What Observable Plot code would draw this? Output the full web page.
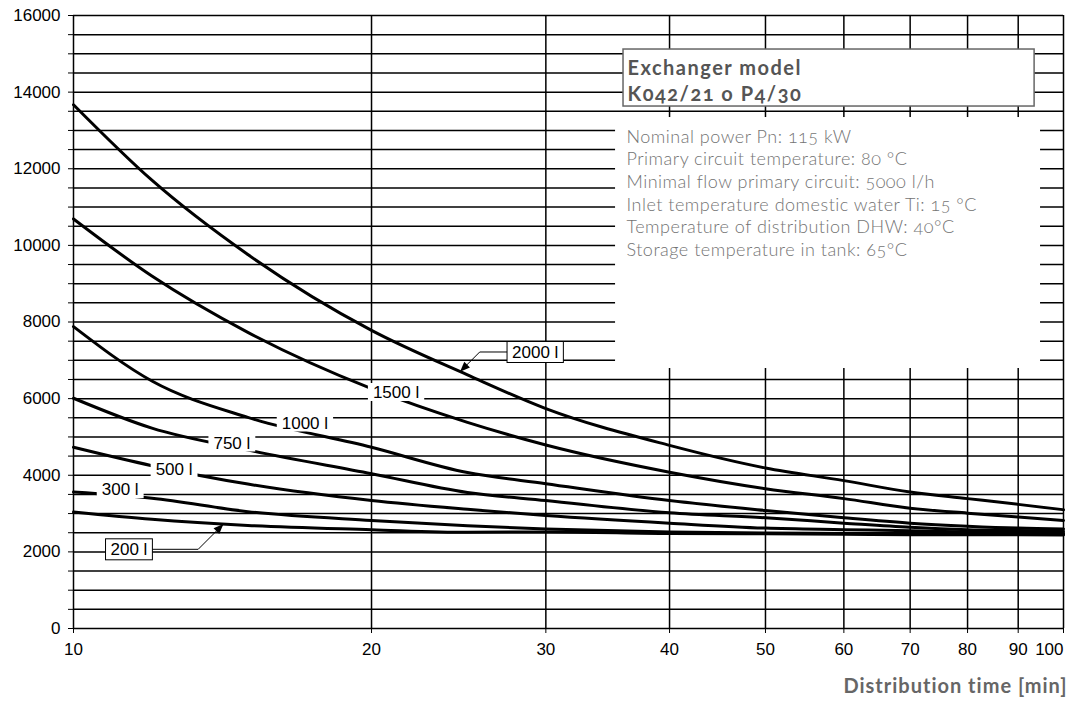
<!DOCTYPE html>
<html><head><meta charset="utf-8">
<script src="https://cdn.jsdelivr.net/npm/d3@7"></script>
<script src="https://cdn.jsdelivr.net/npm/@observablehq/plot@0.6"></script>
<style>
body{margin:0;background:#fff}
.chart-title{letter-spacing:1.5px}
.chart-info{letter-spacing:0.5px}
.x-title{letter-spacing:1px}
</style>
</head><body><div id="chart"></div>
<script>
// ---- data ----
const minutes = [10, 12, 15, 20, 25, 30, 40, 50, 60, 70, 80, 90, 100];
const tank2000 = [13670, 11700, 9760, 7780, 6620, 5740, 4780, 4190, 3860, 3560, 3390, 3240, 3100];
const tank1500 = [10690, 9200, 7730, 6260, 5380, 4790, 4080, 3650, 3390, 3140, 3010, 2910, 2820];
const tank1000 = [7880, 6460, 5510, 4730, 4070, 3780, 3340, 3080, 2890, 2750, 2670, 2620, 2600];
const tank750  = [6010, 5230, 4660, 4040, 3550, 3340, 3020, 2890, 2750, 2640, 2580, 2560, 2540];
const tank500  = [4730, 4250, 3770, 3340, 3110, 2950, 2750, 2620, 2580, 2550, 2520, 2510, 2490];
const tank300  = [3560, 3400, 3050, 2820, 2680, 2600, 2520, 2490, 2480, 2470, 2470, 2460, 2460];
const tank200  = [3040, 2850, 2690, 2580, 2510, 2520, 2480, 2470, 2460, 2450, 2450, 2450, 2440];
const seriesNames = ["2000 l", "1500 l", "1000 l", "750 l", "500 l", "300 l", "200 l"];
const seriesValues = [tank2000, tank1500, tank1000, tank750, tank500, tank300, tank200];
const xTicks = [10, 20, 30, 40, 50, 60, 70, 80, 90, 100];
const yTicks = d3.range(0, 16001, 500);
const yLabelStep = 2000;
const titleLines = ["Exchanger model", "K042/21 o P4/30"];
const infoLines = [
  "Nominal power Pn: 115 kW",
  "Primary circuit temperature: 80 °C",
  "Minimal flow primary circuit: 5000 l/h",
  "Inlet temperature domestic water Ti: 15 °C",
  "Temperature of distribution DHW: 40°C",
  "Storage temperature in tank: 65°C"
];
const xLabel = "Distribution time [min]";

// ---- annotation placement (data units) ----
const infoArea = {x1: 35.28, x2: 94.8, y1: 6786, y2: 13337};
const titleArea = {x1: 35.94, x2: 93.5, y1: 13624, y2: 15112};
const titleAnchor = {x: 36.27, y: 14917};
const infoAnchor = {x: 36.19, y: 13103};
const labelPlacement = [
  {text: "2000 l", x: 29.3, y: 7204, boxed: true, tipX: 24.6, tipY: 6690},
  {text: "1500 l", x: 21.2, y: 6160},
  {text: "1000 l", x: 17.15, y: 5364},
  {text: "750 l", x: 14.47, y: 4842},
  {text: "500 l", x: 12.65, y: 4150},
  {text: "300 l", x: 11.16, y: 3628},
  {text: "200 l", x: 11.39, y: 2054, boxed: true, tipX: 14.19, tipY: 2714}
];

const rows = seriesNames.flatMap((s, i) => minutes.map((m, j) => ({series: s, minutes: m, flow: seriesValues[i][j]})));

const ctx = document.createElement("canvas").getContext("2d");
function measure(t, font) { ctx.font = font; return ctx.measureText(t).width; }
const LABEL_FONT = "17px 'Liberation Sans'";

function curveLabels(index, scales) {
  const g = d3.create("svg:g");
  for (const d of labelPlacement) {
    const cx = scales.x(d.x), cy = scales.y(d.y);
    const w = measure(d.text, LABEL_FONT) + 10, h = d.boxed ? 21 : 18;
    g.append("rect").attr("x", cx - w / 2).attr("y", cy - h / 2).attr("width", w).attr("height", h)
      .attr("fill", "white").attr("stroke", d.boxed ? "black" : "none").attr("stroke-width", 1);
    g.append("text").attr("x", cx).attr("y", cy).attr("dy", "0.36em").attr("text-anchor", "middle")
      .attr("font-family", "'Liberation Sans', Arial, sans-serif").attr("font-size", 17).attr("fill", "black").text(d.text);
    if (d.boxed) {
      const tx = scales.x(d.tipX), ty = scales.y(d.tipY);
      const sx = tx < cx ? cx - w / 2 : cx + w / 2;
      const horiz = Math.abs(tx - sx) - Math.abs(ty - cy);
      const ex = sx + Math.sign(tx - sx) * horiz;
      g.append("path").attr("d", `M${sx},${cy}L${ex},${cy}L${tx},${ty}`)
        .attr("fill", "none").attr("stroke", "black").attr("stroke-width", 1);
      const ang = Math.atan2(ty - cy, tx - ex);
      const L = 10, W = 4;
      const bx = tx - L * Math.cos(ang), by = ty - L * Math.sin(ang);
      const px = -Math.sin(ang) * W, py = Math.cos(ang) * W;
      g.append("path").attr("d", `M${tx},${ty}L${bx + px},${by + py}L${bx - px},${by - py}Z`).attr("fill", "black");
    }
  }
  return g.node();
}

const lastTick = xTicks[xTicks.length - 1];

const chart = Plot.plot({
  width: 1075,
  height: 713,
  marginLeft: 73,
  marginRight: 12,
  marginTop: 15,
  marginBottom: 85,
  style: {fontFamily: "'Liberation Sans', Arial, sans-serif", fontSize: "17px", color: "black", background: "white"},
  x: {type: "log", domain: [10, 100]},
  y: {domain: [0, 16000]},
  marks: [
    Plot.ruleY(yTicks, {stroke: "black", strokeWidth: 1.5}),
    Plot.ruleX(xTicks, {stroke: "black", strokeWidth: 1.5}),
    Plot.rect([infoArea], {x1: "x1", x2: "x2", y1: "y1", y2: "y2", fill: "white"}),
    Plot.rect([titleArea], {x1: "x1", x2: "x2", y1: "y1", y2: "y2", fill: "white", stroke: "#666", strokeWidth: 1.5}),
    Plot.text([titleLines.join("\n")], {x: titleAnchor.x, y: titleAnchor.y, text: d => d, textAnchor: "start", lineAnchor: "top",
      fontSize: 20, fontWeight: "bold", fill: "#555", lineHeight: 1.28, fontFamily: "Lato", fontVariant: "oldstyle-nums", title: null}),
    Plot.text([infoLines.join("\n")], {x: infoAnchor.x, y: infoAnchor.y, text: d => d, textAnchor: "start", lineAnchor: "top",
      fontSize: 18, fontWeight: 300, fill: "#737373", lineHeight: 1.26, fontFamily: "Lato", fontVariant: "oldstyle-nums"}),
    Plot.line(rows, {x: "minutes", y: "flow", z: "series", stroke: "black", strokeWidth: 3, curve: "monotone-x"}),
    curveLabels,
    Plot.axisX({ticks: xTicks.slice(0, -1), tickFormat: d => String(d), tickSize: 5, tickPadding: 9, label: null, fontSize: 17}),
    Plot.axisX({ticks: [lastTick], tickFormat: d => String(d), tickSize: 5, tickPadding: 9, label: null, fontSize: 17, textAnchor: "end"}),
    Plot.axisY({ticks: yTicks, tickFormat: d => d % yLabelStep === 0 ? String(d) : "", tickSize: 5, tickPadding: 8, label: null, fontSize: 17}),
    Plot.text([xLabel], {frameAnchor: "bottom-right", dy: 64, dx: 4, textAnchor: "end", fontSize: 20, fontWeight: "bold", fill: "#666", fontFamily: "Lato"})
  ]
});
// letter spacing for the Raleway-like annotation texts (CSS only, no geometry)
d3.select(chart).selectAll("text").each(function() {
  const t = this.textContent;
  if (t.startsWith(titleLines[0])) this.classList.add("chart-title");
  else if (t.startsWith(infoLines[0])) this.classList.add("chart-info");
  else if (t === xLabel) this.classList.add("x-title");
});
document.getElementById("chart").appendChild(chart);
</script>
</body></html>
